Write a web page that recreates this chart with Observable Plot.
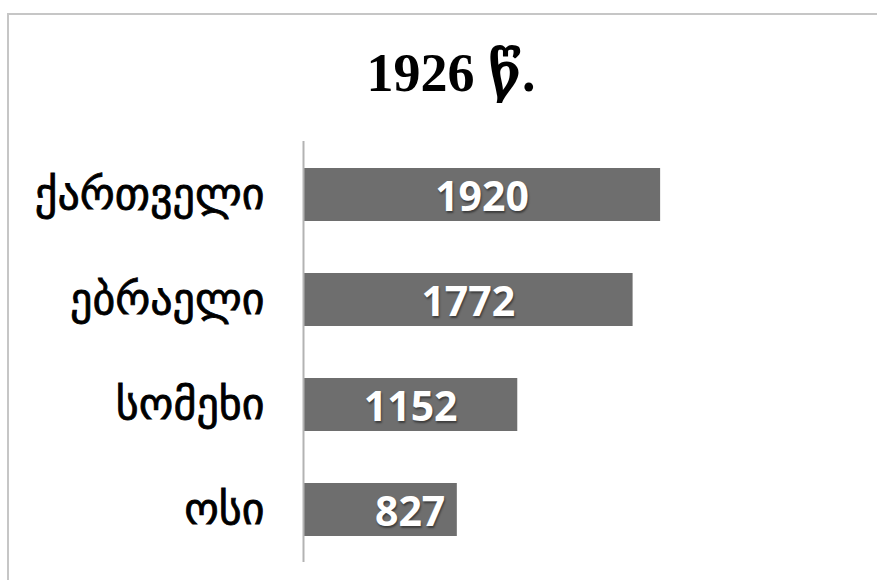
<!DOCTYPE html>
<html>
<head>
<meta charset="utf-8">
<script src="https://cdn.jsdelivr.net/npm/d3@7"></script>
<script src="https://cdn.jsdelivr.net/npm/@observablehq/plot@0.6"></script>
<style>
  html, body { margin: 0; padding: 0; background: #fff; overflow: hidden; }
  #wrap { position: relative; width: 877px; height: 580px; overflow: hidden; }
  #frame { position: absolute; left: 7px; top: 13px; width: 1000px; height: 700px; border: 2px solid #c6c6c6; box-sizing: border-box; }
  #title { position: absolute; left: 0; top: 46px; width: 902px; text-align: center; font-family: "Liberation Serif", "DejaVu Serif", serif; font-weight: bold; font-size: 54px; line-height: 1; color: #000; }
  #chart { position: absolute; left: 0; top: 120px; }
  #chart g[aria-label="text"] text { text-shadow: 1px 2px 2px rgba(0,0,0,0.45); }
  #chart g[aria-label="y-axis tick label"] text { stroke: #000; stroke-width: 0.8px; }
</style>
</head>
<body>
<div id="wrap">
  <div id="frame"></div>
  <div id="title">1926 წ.</div>
  <div id="chart"></div>
</div>
<script>
const categories = ["ქართველი", "ებრაელი", "სომეხი", "ოსი"];
const values = [1920, 1772, 1152, 827];

const data = categories.map((c, i) => ({category: c, value: values[i]}));

const chart = Plot.plot({
  width: 877,
  height: 460,
  marginTop: 21,
  marginBottom: 18,
  marginLeft: 303,
  marginRight: 202,
  style: {background: "transparent", overflow: "visible"},
  x: {domain: [0, 2000], axis: null},
  y: {domain: categories, paddingInner: 0.5, paddingOuter: 0.25, axis: null},
  marks: [
    Plot.barX(data, {x: "value", y: "category", fill: "#6e6e6e"}),
    Plot.ruleX([0], {stroke: "#b3b3b3", strokeWidth: 2}),
    Plot.axisY({tickSize: 0, tickPadding: 39, fontSize: 44, fontFamily: "DejaVu Sans, sans-serif", fill: "#000", label: null}),
    Plot.text(data.filter(d => d.value >= 1000), {
      x: d => d.value / 2, y: "category", text: d => String(d.value),
      fill: "white", fontSize: 41, fontWeight: "bold", fontFamily: "Open Sans, sans-serif", dy: 3
    }),
    Plot.text(data.filter(d => d.value < 1000), {
      x: "value", y: "category", text: d => String(d.value), textAnchor: "end", dx: -12,
      fill: "white", fontSize: 41, fontWeight: "bold", fontFamily: "Open Sans, sans-serif", dy: 3
    })
  ]
});
document.getElementById("chart").appendChild(chart);
</script>
</body>
</html>
